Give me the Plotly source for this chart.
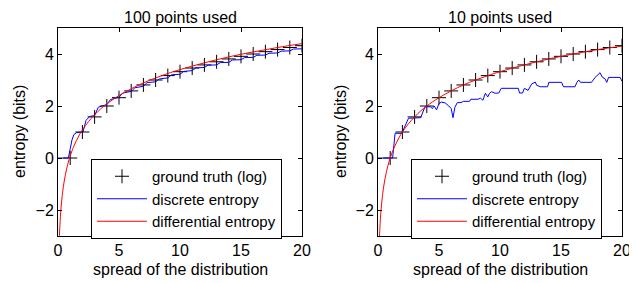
import plotly.graph_objects as go

# ground truth (log) markers
gt_x = list(range(1, 21))
gt_y = [0.0, 1.0, 1.58, 2.0, 2.32, 2.58, 2.81, 3.0, 3.17, 3.32,
        3.46, 3.58, 3.70, 3.81, 3.91, 4.0, 4.09, 4.17, 4.25, 4.32]

# differential entropy curves
red_x = [0.11, 0.12, 0.135, 0.15, 0.175, 0.2, 0.25, 0.3, 0.35, 0.4, 0.5, 0.6, 0.7,
         0.8, 0.9, 1.0, 1.25, 1.5, 1.75, 2.0, 2.5, 3.0, 3.5, 4.0, 5.0, 6.0,
         7.0, 8.0, 9.0, 10.0, 12.0, 14.0, 16.0, 18.0, 20.0]
red_left_y = [-3.10, -2.98, -2.81, -2.66, -2.44, -2.24, -1.92, -1.66, -1.43, -1.24,
              -0.92, -0.66, -0.43, -0.24, -0.07, 0.08, 0.40, 0.66, 0.89, 1.08,
              1.40, 1.66, 1.89, 2.08, 2.40, 2.66, 2.89, 3.08, 3.25, 3.40, 3.66,
              3.89, 4.08, 4.25, 4.40]
red_right_y = [-3.18, -3.06, -2.89, -2.74, -2.51, -2.32, -2.0, -1.74, -1.51, -1.32,
               -1.0, -0.74, -0.51, -0.32, -0.15, 0.0, 0.32, 0.58, 0.81, 1.0,
               1.32, 1.58, 1.81, 2.0, 2.32, 2.58, 2.81, 3.0, 3.17, 3.32, 3.58,
               3.81, 4.0, 4.17, 4.30]

# discrete entropy, 100 points
blue_left_x = [0, 0.85, 1.0, 1.15, 1.3, 1.5, 1.8, 2.05, 2.3, 2.6, 3.0, 3.3, 3.6,
               4.0, 4.3, 4.7, 5.0, 5.3, 5.7, 6.0, 6.3, 6.7, 7.0, 7.3, 7.7, 8.0,
               8.3, 8.7, 9.0, 9.3, 9.7, 10.0, 10.3, 10.7, 11.0, 11.3, 11.7, 12.0,
               12.3, 12.7, 13.0, 13.3, 13.7, 14.0, 14.3, 14.7, 15.0, 15.3, 15.7,
               16.0, 16.3, 16.7, 17.0, 17.3, 17.7, 18.0, 18.3, 18.7, 19.0, 19.3,
               19.7, 20.0]
blue_left_y = [0, 0, 0.35, 0.7, 0.9, 0.97, 0.99, 1.0, 1.45, 1.6, 1.63, 1.95, 2.0,
               2.05, 2.25, 2.3, 2.33, 2.5, 2.52, 2.56, 2.7, 2.72, 2.76, 2.9, 2.91,
               2.93, 3.04, 3.05, 3.08, 3.2, 3.2, 3.22, 3.33, 3.34, 3.36, 3.47, 3.46,
               3.48, 3.57, 3.56, 3.58, 3.67, 3.66, 3.68, 3.77, 3.76, 3.78, 3.86,
               3.85, 3.87, 3.95, 3.94, 3.96, 4.03, 4.02, 4.04, 4.11, 4.10, 4.12,
               4.19, 4.18, 4.20]

# discrete entropy, 10 points
blue_right_x = [0, 1.2, 1.4, 1.95, 2.5, 3.2, 3.5, 3.85, 4.3, 4.45, 4.6, 4.8, 5.0,
                5.2, 5.5, 5.8, 6.0, 6.15, 6.3, 6.5, 6.8, 7.0, 7.5, 7.6, 8.2, 8.4,
                8.6, 8.8, 9.0, 9.15, 9.3, 9.6, 9.9, 10.1, 11.5, 11.6, 11.85, 12.0,
                12.3, 12.6, 12.9, 13.0, 13.3, 13.9, 14.0, 15.05, 15.2, 16.15, 16.3,
                16.45, 16.6, 17.5, 17.7, 17.8, 18.2, 18.4, 18.6, 18.75, 18.9, 19.85,
                20.0]
blue_right_y = [0, 0, 0.95, 0.95, 1.53, 1.53, 1.55, 1.97, 1.97, 1.9, 2.0, 1.85,
                2.1, 2.15, 2.12, 2.0, 1.9, 1.55, 1.95, 2.13, 2.13, 2.18, 2.18, 2.26,
                2.26, 2.3, 2.22, 2.49, 2.35, 2.49, 2.55, 2.49, 2.5, 2.68, 2.68, 2.5,
                2.5, 2.68, 2.6, 2.85, 2.92, 2.8, 2.74, 2.74, 2.91, 2.91, 2.74, 2.74,
                2.91, 3.0, 2.91, 2.91, 3.05, 3.1, 3.28, 3.1, 3.05, 2.91, 3.1, 3.1,
                2.95]

titles = ["100 points used", "10 points used"]
x_ticks = [0, 5, 10, 15, 20]
y_ticks = [-2, 0, 2, 4]

PW, PH = 637, 283      # page size
OFF = 8                # default page body margin
W, H = PW - OFF, PH - OFF
FONT = "Liberation Sans, Arial, Helvetica, sans-serif"
FS = 16


def fx(p):
    return (p - OFF) / W


def fy(p):
    return 1 - (p - OFF) / H


fig = go.Figure()

panels = [
    ("x", "y", "legend", red_left_y, blue_left_x, blue_left_y),
    ("x2", "y2", "legend2", red_right_y, blue_right_x, blue_right_y),
]
for xa, ya, lg, ry, bx, by in panels:
    fig.add_trace(go.Scatter(x=gt_x, y=gt_y, mode="markers", name="ground truth (log)",
                             marker=dict(symbol="cross-thin", size=10,
                                         line=dict(color="black", width=1), color="black"),
                             xaxis=xa, yaxis=ya, legend=lg))
    fig.add_trace(go.Scatter(x=bx, y=by, mode="lines", name="discrete entropy",
                             line=dict(color="#0000ff", width=1),
                             xaxis=xa, yaxis=ya, legend=lg))
    fig.add_trace(go.Scatter(x=red_x, y=ry, mode="lines", name="differential entropy",
                             line=dict(color="#ff0000", width=1, shape="spline"),
                             xaxis=xa, yaxis=ya, legend=lg))

xd1 = [fx(58), fx(302)]
xd2 = [fx(378), fx(622)]
yd = [fy(236), fy(28)]

axis_common = dict(showgrid=False, zeroline=False, showline=True, linecolor="black",
                   linewidth=1, mirror="ticks", ticks="inside", ticklen=4,
                   tickcolor="black", tickfont=dict(size=FS, color="black", family=FONT))

legend_common = dict(xanchor="left", yanchor="top", bgcolor="white",
                     bordercolor="black", borderwidth=1, itemwidth=50,
                     font=dict(size=15, family=FONT, color="black"), tracegroupgap=0)

fig.update_layout(
    width=W, height=H, margin=dict(l=0, r=0, t=0, b=0, autoexpand=False),
    paper_bgcolor="white", plot_bgcolor="white",
    font=dict(family=FONT, size=FS, color="black"),
    xaxis=dict(domain=xd1, range=[0, 20], tickvals=x_ticks, anchor="y", **axis_common),
    yaxis=dict(domain=yd, range=[-3, 5], tickvals=y_ticks, anchor="x", **axis_common),
    xaxis2=dict(domain=xd2, range=[0, 20], tickvals=x_ticks, anchor="y2", **axis_common),
    yaxis2=dict(domain=yd, range=[-3, 5], tickvals=y_ticks, anchor="x2", **axis_common),
    legend=dict(x=fx(91), y=fy(159), **legend_common),
    legend2=dict(x=fx(411), y=fy(159), **legend_common),
)

annotations = []
for xd, t in zip([xd1, xd2], titles):
    cx = (xd[0] + xd[1]) / 2
    annotations.append(dict(text=t, x=cx, y=1.0, xref="paper", yref="paper",
                            showarrow=False, xanchor="center", yanchor="top",
                            borderpad=0,
                            font=dict(size=FS, family=FONT, color="black")))
    annotations.append(dict(text="spread of the distribution", x=cx, y=fy(269),
                            xref="paper", yref="paper", showarrow=False,
                            xanchor="center", yanchor="middle",
                            font=dict(size=FS, family=FONT, color="black")))
for px in [19, 340]:
    annotations.append(dict(text="entropy (bits)", x=fx(px), y=fy(132),
                            xref="paper", yref="paper", showarrow=False, textangle=-90,
                            xanchor="center", yanchor="middle",
                            font=dict(size=FS, family=FONT, color="black")))
fig.update_layout(annotations=annotations)

fig.write_html("out.html")
